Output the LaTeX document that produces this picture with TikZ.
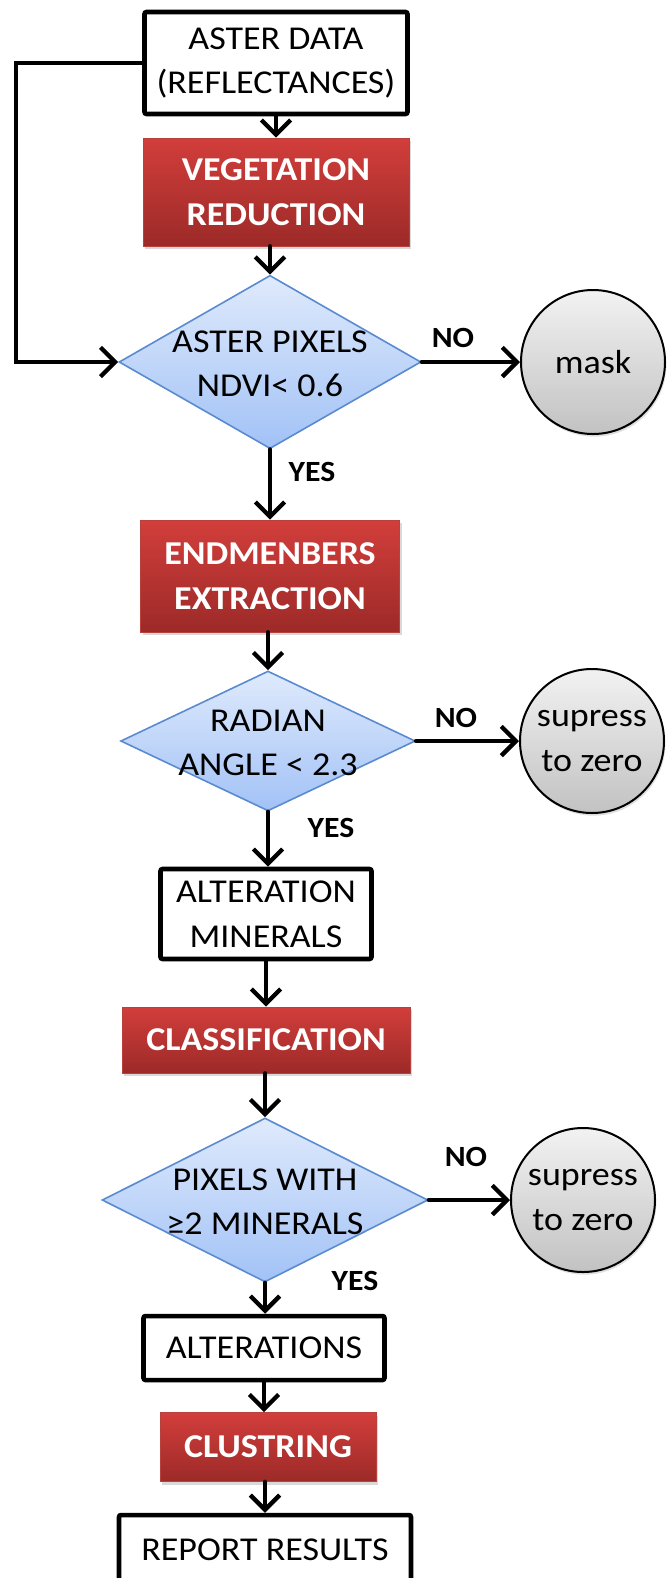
\documentclass[tikz,border=0pt]{standalone}
\usepackage{fontspec}
\setmainfont{Carlito}[FakeStretch=1.08]
\usetikzlibrary{shapes.geometric,arrows.meta,shadows}
\definecolor{redtop}{HTML}{D23E3B}
\definecolor{redbot}{HTML}{9C2A28}
\definecolor{redline}{HTML}{B8403D}
\definecolor{dtop}{HTML}{DFEAFC}
\definecolor{dbot}{HTML}{A2C2F6}
\definecolor{dline}{HTML}{5A8AD0}
\definecolor{gtop}{HTML}{F2F2F2}
\definecolor{gbot}{HTML}{C2C2C2}
\newcommand{\dtext}[1]{\makebox[0pt]{\smash{\raisebox{-9pt}{\begin{tabular}{@{}c@{}}#1\end{tabular}}}}}
\begin{document}
\begin{tikzpicture}[x=0.75pt,y=-0.75pt,
 txt/.style={font=\fontsize{25}{33.5}\selectfont, align=center},
 whitebox/.style={draw=black, line width=3.4pt, rounded corners=1.5pt, fill=white, txt, inner sep=0pt},
 redbox/.style={top color=redtop, bottom color=redbot, draw=redline, line width=0.6pt,
   font=\fontsize{25}{33.5}\selectfont\bfseries, text=white, align=center, inner sep=0pt,
   drop shadow={opacity=0.3, shadow xshift=1.5pt, shadow yshift=-2.5pt}},
 decision/.style={diamond, draw=dline, line width=1.2pt, top color=dtop, bottom color=dbot,
   inner sep=0pt, txt},
 term/.style={circle, draw=black, line width=1.5pt, top color=gtop, bottom color=gbot,
   inner sep=0pt, minimum size=108pt, txt,
   drop shadow={opacity=0.25, shadow xshift=1pt, shadow yshift=-2pt}},
 arr/.style={line width=3.4pt, line cap=round,
   -{Straight Barb[length=11pt,width=22pt,line width=3.2pt]}},
 lab/.style={font=\fontsize{22}{24}\selectfont\bfseries, inner sep=0pt}
]
\useasboundingbox (0,0) rectangle (667,1578);

% nodes
\node[whitebox, minimum width=197.25pt, minimum height=76.5pt] (aster) at (276,63) {ASTER DATA\\(REFLECTANCES)};
\node[redbox, minimum width=199.5pt, minimum height=81pt] (veg) at (276,192) {VEGETATION\\REDUCTION};
\node[decision, minimum width=226.5pt, minimum height=130pt] (d1) at (270,362) {\dtext{ASTER PIXELS\\NDVI< 0.6}};
\node[term] (mask) at (593,362) {mask};
\node[redbox, minimum width=194.25pt, minimum height=84pt] (endm) at (270,576) {ENDMENBERS\\EXTRACTION};
\node[decision, minimum width=221pt, minimum height=105pt] (d2) at (268,741) {\dtext{RADIAN\\ANGLE < 2.3}};
\node[term] (sup1) at (592,741) {supress\\to zero};
\node[whitebox, minimum width=158.25pt, minimum height=67.5pt] (altmin) at (266,914) {ALTERATION\\MINERALS};
\node[redbox, minimum width=216pt, minimum height=49.5pt] (class) at (266,1040) {CLASSIFICATION};
\node[decision, minimum width=244.5pt, minimum height=123pt] (d3) at (265,1200) {\dtext{PIXELS WITH\\≥2 MINERALS}};
\node[term] (sup2) at (583,1200) {supress\\to zero};
\node[whitebox, minimum width=180.75pt, minimum height=48pt] (alter) at (264,1348) {ALTERATIONS};
\node[redbox, minimum width=162pt, minimum height=51.75pt] (clust) at (268,1447) {CLUSTRING};
\node[whitebox, minimum width=219pt, minimum height=52.5pt] (report) at (265,1550) {REPORT RESULTS};

% labels
\node[lab] (no1) at (453,338) {NO};
\node[lab] (yes1) at (312,472) {YES};
\node[lab] (no2) at (456,718) {NO};
\node[lab] (yes2) at (331,828) {YES};
\node[lab] (no3) at (466,1157) {NO};
\node[lab] (yes3) at (355,1281) {YES};

% connectors
\coordinate (fbx) at (16,0);
\draw[arr] (aster.south) -- (veg.north);
\draw[arr] (veg.south -| d1.north) -- (d1.north);
\draw[arr] (aster.west) -- (aster.west -| fbx) |- (d1.west);
\draw[arr] (d1.east) -- (mask.west);
\draw[arr] (d1.south) -- (d1.south |- endm.north);
\draw[arr] (endm.south -| d2.north) -- (d2.north);
\draw[arr] (d2.east) -- (sup1.west);
\draw[arr] (d2.south) -- (d2.south |- altmin.north);
\draw[arr] (altmin.south) -- (altmin.south |- class.north);
\draw[arr] (class.south -| d3.north) -- (d3.north);
\draw[arr] (d3.east) -- (sup2.west);
\draw[arr] (d3.south) -- (d3.south |- alter.north);
\draw[arr] (alter.south) -- (alter.south |- clust.north);
\draw[arr] (clust.south -| report.north) -- (report.north);
\end{tikzpicture}
\end{document}
